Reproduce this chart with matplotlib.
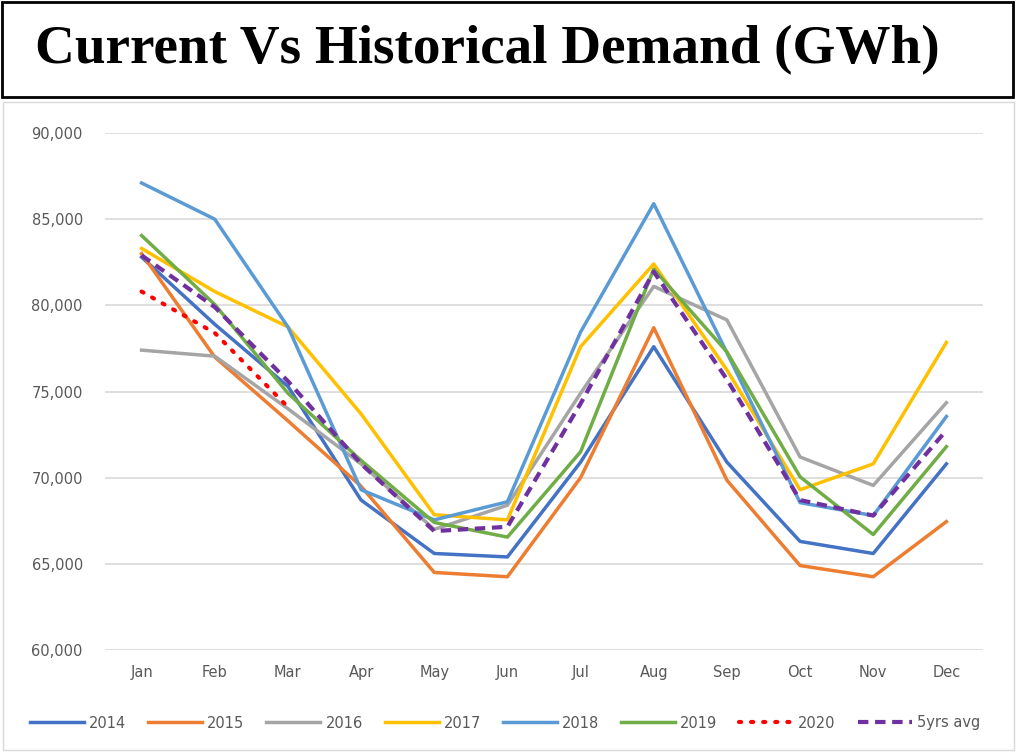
import matplotlib.pyplot as plt
from matplotlib.patches import Rectangle
from matplotlib.ticker import FuncFormatter

months = ['Jan', 'Feb', 'Mar', 'Apr', 'May', 'Jun', 'Jul', 'Aug', 'Sep', 'Oct', 'Nov', 'Dec']

d2014 = [82800, 78900, 75300, 68700, 65600, 65400, 70900, 77600, 70900, 66300, 65600, 70800]
d2015 = [83000, 77000, 73300, 69500, 64500, 64250, 70000, 78700, 69850, 64900, 64250, 67450]
d2016 = [77400, 77050, 74000, 70800, 67000, 68400, 74900, 81100, 79150, 71200, 69550, 74350]
d2017 = [83300, 80800, 78750, 73700, 67850, 67550, 77600, 82400, 76250, 69300, 70800, 77850]
d2018 = [87100, 85000, 78750, 69300, 67550, 68600, 78450, 85900, 77250, 68550, 67800, 73550]
d2019 = [84050, 80050, 74900, 71000, 67400, 66550, 71500, 82100, 77300, 70050, 66700, 71800]
d2020 = [80800, 78400, 74100]
avg5 = [82900, 79900, 75600, 70800, 66900, 67150, 74300, 81950, 75700, 68700, 67800, 72750]

series = [
    ('2014', d2014, '#4472C4'),
    ('2015', d2015, '#ED7D31'),
    ('2016', d2016, '#A5A5A5'),
    ('2017', d2017, '#FFC000'),
    ('2018', d2018, '#5B9BD5'),
    ('2019', d2019, '#70AD47'),
]

plt.rcParams['font.family'] = ['DejaVu Sans']

fig = plt.figure(figsize=(10.17, 7.54), dpi=100)

# title box
fig.patches.append(Rectangle((2 / 1017, 1 - 97 / 754), 1011 / 1017, 95 / 754,
                             transform=fig.transFigure, fill=False,
                             edgecolor='black', linewidth=2))
fig.text(35 / 1017, 1 - 50 / 754, 'Current Vs Historical Demand (GWh)',
         fontsize=39.7, fontweight='bold', family='Liberation Serif',
         ha='left', va='center')

# chart border
fig.patches.append(Rectangle((3 / 1017, 1 - 750 / 754), 1011 / 1017, 648 / 754,
                             transform=fig.transFigure, fill=False,
                             edgecolor='#D9D9D9', linewidth=1))

ax = fig.add_axes([105 / 1017, 1 - 650 / 754, 878 / 1017, 517 / 754])
x = list(range(len(months)))

for name, vals, col in series:
    ax.plot(x, vals, color=col, linewidth=2.5, label=name)
ax.plot(x[:len(d2020)], d2020, color='#FF0000', linewidth=3, linestyle=(0, (0.5, 2.4)),
        dash_capstyle='round', label='2020')
ax.plot(x, avg5, color='#7030A0', linewidth=3, linestyle=(0, (2.5, 1.6)),
        label='5yrs avg')

ax.set_xlim(-0.5, 11.5)
ax.set_ylim(60000, 90000)
ax.set_yticks(range(60000, 90001, 5000))
ax.yaxis.set_major_formatter(FuncFormatter(lambda v, p: f'{int(v):,}'))
ax.set_xticks(x)
ax.set_xticklabels(months)
ax.grid(axis='y', color='#D9D9D9', linewidth=1.2)
ax.set_axisbelow(True)
for s in ax.spines.values():
    s.set_visible(False)
ax.tick_params(length=0, colors='#595959', labelsize=10.5)
ax.tick_params(axis='x', pad=11)
ax.tick_params(axis='y', pad=16)

ax.legend(loc='center', bbox_to_anchor=((505 - 105) / 878, (650 - 723) / 517), ncol=8,
          frameon=False, fontsize=10.5, handlelength=3.7, columnspacing=1.5,
          handletextpad=0.35, labelcolor='#595959')

fig.savefig('out.png', dpi=100)
